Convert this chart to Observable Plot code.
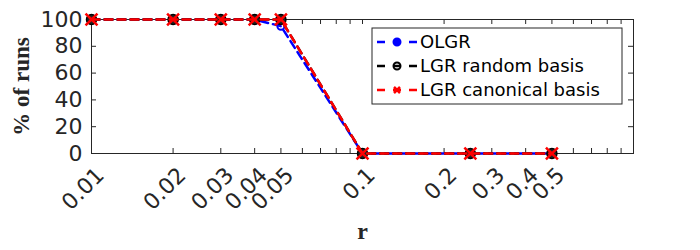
<!DOCTYPE html>
<html>
<head>
<meta charset="utf-8">
<script src="https://cdn.jsdelivr.net/npm/d3@7"></script>
<script src="https://cdn.jsdelivr.net/npm/@observablehq/plot@0.6"></script>
<style>
  html, body { margin: 0; padding: 0; background: #fff; }
  #chart { width: 700px; height: 250px; }
</style>
</head>
<body>
<div id="chart"></div>
<script>
const r = [0.01, 0.02, 0.03, 0.04, 0.05, 0.1, 0.25, 0.5];
const olgr = [100, 100, 100, 100, 95, 0, 0, 0];
const lgrRandom = [100, 100, 100, 100, 100, 0, 0, 0];
const lgrCanonical = [100, 100, 100, 100, 100, 0, 0, 0];
const seriesNames = ["OLGR", "LGR random basis", "LGR canonical basis"];
const xTicks = [0.01, 0.02, 0.03, 0.04, 0.05, 0.1, 0.2, 0.3, 0.4, 0.5];
const xMinor = [0.06, 0.07, 0.08, 0.09, 0.6, 0.7, 0.8, 0.9];
const yTicks = [0, 20, 40, 60, 80, 100];
const xLabel = "r";
const yLabel = "% of runs";

const W = 700, H = 250;
const mL = 91, mR = 67, mT = 19, mB = 97;
const pw = W - mL - mR, ph = H - mT - mB;
const axisColor = "#262626";
const sans = "DejaVu Sans, sans-serif";
const serif = "Liberation Serif, DejaVu Serif, serif";

const colors = ["#0000ff", "#000000", "#ff0000"];
const values = [olgr, lgrRandom, lgrCanonical];
const data = [];
values.forEach((vals, s) => vals.forEach((v, i) => data.push({series: seriesNames[s], r: r[i], v})));
const bySeries = s => data.filter(d => d.series === seriesNames[s]);

const allXTicks = xTicks.concat(xMinor);

const marks = [
  // inward ticks
  Plot.tickY(yTicks, {y: d => d, stroke: axisColor, insetRight: pw - 5}),
  Plot.tickY(yTicks, {y: d => d, stroke: axisColor, insetLeft: pw - 5}),
  Plot.tickX(allXTicks, {x: d => d, stroke: axisColor, insetBottom: ph - 5}),
  Plot.tickX(allXTicks, {x: d => d, stroke: axisColor, insetTop: ph - 5}),
  Plot.frame({stroke: axisColor, strokeWidth: 1}),
  // y tick labels
  Plot.text(yTicks, {y: d => d, frameAnchor: "left", text: d => String(d), textAnchor: "end", dx: -9, fontSize: 22, fill: axisColor, fontFamily: sans}),
  // x tick labels
  Plot.text(xTicks, {x: d => d, frameAnchor: "bottom", text: d => String(d), textAnchor: "end", rotate: -45, dx: 14, dy: 23, fontSize: 22, fill: axisColor, fontFamily: sans}),
  // axis labels
  Plot.text([yLabel], {frameAnchor: "left", textAnchor: "middle", rotate: -90, dx: -70, fontSize: 23, fontWeight: "bold", fill: axisColor, fontFamily: serif}),
  Plot.text([xLabel], {frameAnchor: "bottom", textAnchor: "middle", dy: 85, fontSize: 24, fontWeight: "bold", fill: axisColor, fontFamily: serif})
];

// series 0: OLGR
marks.push(Plot.line(bySeries(0), {x: "r", y: "v", stroke: colors[0], strokeWidth: 2.5, strokeDasharray: "8,5"}));
marks.push(Plot.dot(bySeries(0), {x: "r", y: "v", stroke: colors[0], strokeWidth: 2, r: 3.5, fill: "none"}));
// series 1
marks.push(Plot.line(bySeries(1), {x: "r", y: "v", stroke: colors[1], strokeWidth: 2.5, strokeDasharray: "8,5"}));
marks.push(Plot.dot(bySeries(1), {x: "r", y: "v", stroke: colors[1], strokeWidth: 1.5, r: 5, fill: "#222"}));
// series 2
marks.push(Plot.line(bySeries(2), {x: "r", y: "v", stroke: colors[2], strokeWidth: 2.5, strokeDasharray: "8,5"}));
marks.push(Plot.dot(bySeries(2), {x: "r", y: "v", stroke: colors[2], strokeWidth: 2.5, r: 5.5, symbol: "times"}));

const chart = Plot.plot({
  width: W, height: H,
  marginLeft: mL, marginRight: mR, marginTop: mT, marginBottom: mB,
  x: {type: "log", domain: [0.01, 1], axis: null},
  y: {domain: [0, 100], axis: null},
  style: {background: "#fff", fontFamily: sans},
  marks
});

// legend
const svg = d3.select(chart);
const lg = svg.append("g");
const lx = 372, ly = 28, lw = 250, lh = 76;
lg.append("rect").attr("x", lx).attr("y", ly).attr("width", lw).attr("height", lh)
  .attr("fill", "#fff").attr("stroke", axisColor).attr("stroke-width", 1);
seriesNames.forEach((name, i) => {
  const y = ly + 14 + i * 24;
  const g = lg.append("g");
  g.append("line").attr("x1", lx + 5).attr("x2", lx + 46).attr("y1", y).attr("y2", y)
    .attr("stroke", colors[i]).attr("stroke-width", 2.5).attr("stroke-dasharray", "8,8");
  const cx = lx + 25;
  if (i === 2) {
    const s = 3;
    g.append("path").attr("d", `M${cx - s},${y - s}L${cx + s},${y + s}M${cx - s},${y + s}L${cx + s},${y - s}`)
      .attr("stroke", colors[i]).attr("stroke-width", 2.5);
  } else {
    g.append("circle").attr("cx", cx).attr("cy", y).attr("r", 3.5)
      .attr("fill", i === 0 ? colors[0] : "none").attr("stroke", colors[i]).attr("stroke-width", 2);
  }
  g.append("text").attr("x", lx + 48).attr("y", y).attr("dy", "0.35em").attr("text-anchor", "start")
    .attr("font-size", 18).attr("font-family", sans).attr("fill", "#000").text(name);
});

document.getElementById("chart").appendChild(chart);
</script>
</body>
</html>
